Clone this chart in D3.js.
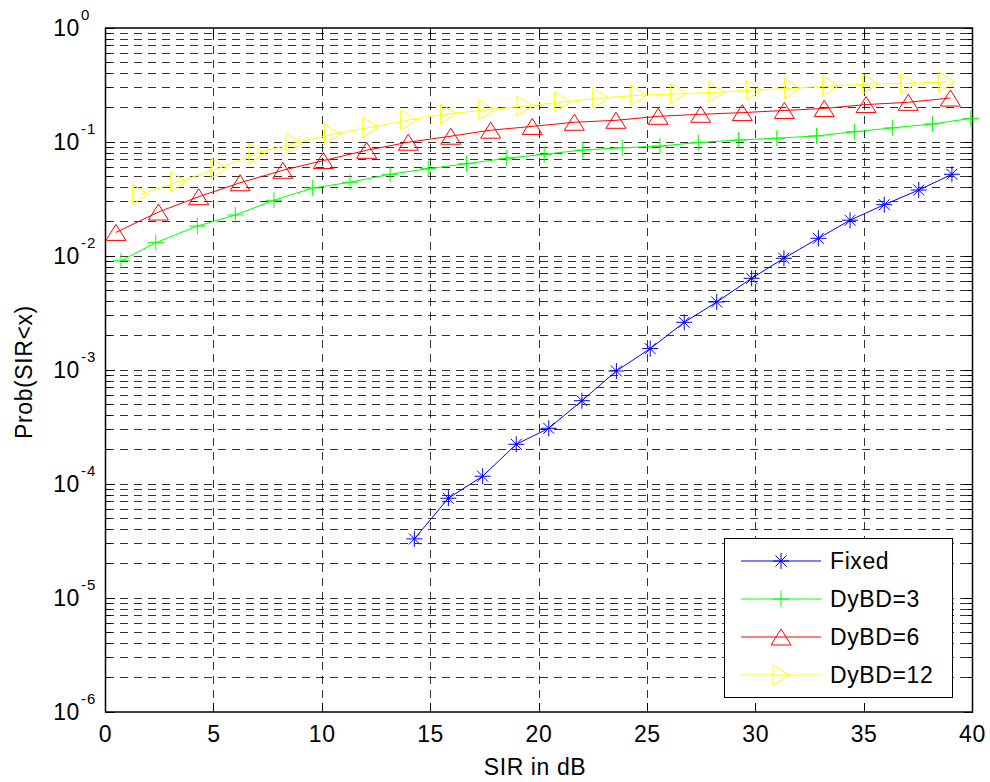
<!DOCTYPE html>
<html>
<head>
<meta charset="utf-8">
<script src="https://cdn.jsdelivr.net/npm/d3@7"></script>
<style>
  html, body { margin: 0; padding: 0; background: #fff; }
  svg { display: block; }
  text { font-family: "Liberation Sans", Arial, sans-serif; fill: #000; }
</style>
</head>
<body>
<svg id="chart" width="990" height="782"></svg>
<script>
// ---- data ----
const xFixed = [14.25,15.82,17.40,18.95,20.45,21.98,23.57,25.13,26.70,28.20,29.81,31.30,32.89,34.35,35.93,37.52,39.05];
const yFixed = [3.30e-5,7.5e-5,1.17e-4,2.23e-4,3.08e-4,5.38e-4,9.8e-4,1.54e-3,2.62e-3,3.95e-3,6.37e-3,9.55e-3,1.43e-2,2.06e-2,2.82e-2,3.79e-2,5.21e-2];

const xDy3 = [0.72,2.32,4.24,5.99,7.77,9.56,11.28,13.13,14.89,16.66,18.51,20.24,22.02,23.84,25.58,27.35,29.21,30.97,32.80,34.55,36.30,38.15,39.92];
const yDy3 = [9.1e-3,1.31e-2,1.83e-2,2.29e-2,3.08e-2,3.95e-2,4.43e-2,5.21e-2,5.84e-2,6.45e-2,7.2e-2,7.8e-2,8.5e-2,8.9e-2,9.2e-2,9.9e-2,0.104,0.108,0.113,0.123,0.133,0.144,0.161];

const xDy6 = [0.48,2.44,4.30,6.21,8.18,10.05,12.05,13.97,15.93,17.77,19.69,21.63,23.55,25.50,27.46,29.38,31.32,33.16,35.09,37.04,38.98];
const yDy6 = [0.0161,0.0243,0.0331,0.0439,0.0565,0.0687,0.0846,0.0996,0.1124,0.127,0.137,0.149,0.155,0.168,0.175,0.181,0.189,0.197,0.213,0.223,0.243];

const xDy12 = [1.61,3.38,5.23,6.99,8.70,10.47,12.24,13.99,15.82,17.59,19.35,21.09,22.85,24.60,26.43,28.20,29.93,31.69,33.46,35.29,37.04,38.81];
const yDy12 = [0.0348,0.0449,0.0588,0.0796,0.0974,0.1175,0.1346,0.156,0.177,0.191,0.207,0.2244,0.243,0.257,0.265,0.273,0.286,0.296,0.310,0.323,0.327,0.336];

const seriesNames = ["Fixed", "DyBD=3", "DyBD=6", "DyBD=12"];
const seriesColors = ["#0000ff", "#00ff00", "#ff0000", "#ffff00"];
const seriesMarkers = ["star", "plus", "triUp", "triRight"];

const xTicks = [0,5,10,15,20,25,30,35,40];
const yExponents = [0,-1,-2,-3,-4,-5,-6];
const xLabel = "SIR in dB";
const yLabel = "Prob(SIR<x)";

// ---- layout ----
const L = 105.5, R = 972.5, T = 28, B = 712;
const x = d3.scaleLinear().domain([0, 40]).range([L, R]);
const y = d3.scaleLog().domain([1e-6, 1]).range([B, T]);

const svg = d3.select("#chart");

const yMajor = yExponents.map(e => Math.pow(10, e));
const yMinor = [];
for (let e = -6; e < 0; e++) for (let m = 2; m <= 9; m++) yMinor.push(m * Math.pow(10, e));

// grid
const grid = svg.append("g").attr("stroke", "#000").attr("stroke-width", 1)
  .attr("stroke-dasharray", "8,6").attr("shape-rendering", "crispEdges").attr("stroke-opacity", 0.8);
yMajor.concat(yMinor).filter(v => v > 1e-6 && v < 1).forEach(v => {
  grid.append("line").attr("x1", L).attr("x2", R).attr("y1", y(v)).attr("y2", y(v));
});
xTicks.filter(v => v > 0 && v < 40).forEach(v => {
  grid.append("line").attr("x1", x(v)).attr("x2", x(v)).attr("y1", B).attr("y2", T);
});

// ticks (inside, all four sides)
const ticks = svg.append("g").attr("stroke", "#000").attr("stroke-width", 1).attr("shape-rendering", "crispEdges");
xTicks.forEach(v => {
  ticks.append("line").attr("x1", x(v)).attr("x2", x(v)).attr("y1", B).attr("y2", B - 9);
  ticks.append("line").attr("x1", x(v)).attr("x2", x(v)).attr("y1", T).attr("y2", T + 9);
});
yMajor.forEach(v => {
  ticks.append("line").attr("x1", L).attr("x2", L + 9).attr("y1", y(v)).attr("y2", y(v));
  ticks.append("line").attr("x1", R).attr("x2", R - 9).attr("y1", y(v)).attr("y2", y(v));
});
yMinor.forEach(v => {
  ticks.append("line").attr("x1", L).attr("x2", L + 5).attr("y1", y(v)).attr("y2", y(v));
  ticks.append("line").attr("x1", R).attr("x2", R - 5).attr("y1", y(v)).attr("y2", y(v));
});

// axis box
svg.append("rect").attr("x", L).attr("y", T).attr("width", R - L).attr("height", B - T)
  .attr("fill", "none").attr("stroke", "#000").attr("stroke-width", 1.5);

// x tick labels
svg.append("g").selectAll("text").data(xTicks).join("text")
  .attr("x", d => x(d)).attr("y", B + 30).attr("text-anchor", "middle")
  .attr("font-size", 23).attr("letter-spacing", 0.6).text(d => d);

// y tick labels 10^e
const yl = svg.append("g");
yExponents.forEach(e => {
  const yy = y(Math.pow(10, e));
  yl.append("text").attr("x", 80).attr("y", yy + 8).attr("text-anchor", "end")
    .attr("font-size", 23).attr("letter-spacing", 0.6).text("10");
  yl.append("text").attr("x", 81).attr("y", yy - 8).attr("text-anchor", "start")
    .attr("font-size", 15).attr("letter-spacing", 1).text(String(e));
});

// axis labels
svg.append("text").attr("x", 535).attr("y", 775).attr("text-anchor", "middle")
  .attr("font-size", 23).attr("letter-spacing", 0.6).text(xLabel);
svg.append("text").attr("transform", "translate(32,372) rotate(-90)").attr("text-anchor", "middle")
  .attr("font-size", 23).attr("letter-spacing", 0.6).text(yLabel);

// markers
function drawMarker(g, type, cx, cy, color) {
  const s = g.append("g").attr("transform", `translate(${cx},${cy})`)
    .attr("stroke", color).attr("fill", "none").attr("stroke-width", 1);
  if (type === "star") {
    s.append("path").attr("d", "M-8,0H8M0,-8V8M-5.5,-5.5L5.5,5.5M-5.5,5.5L5.5,-5.5");
  } else if (type === "plus") {
    s.append("path").attr("d", "M-8,0H8M0,-8V8");
  } else if (type === "triUp") {
    s.append("path").attr("d", "M0,-8L10,8L-10,8Z");
  } else if (type === "triRight") {
    s.append("path").attr("d", "M-8,-10L8,0L-8,10Z");
  }
}

const xs = [xFixed, xDy3, xDy6, xDy12];
const ys = [yFixed, yDy3, yDy6, yDy12];
const line = d3.line().x(d => x(d[0])).y(d => y(d[1]));

for (let i = 0; i < 4; i++) {
  const pts = xs[i].map((v, k) => [v, ys[i][k]]);
  const g = svg.append("g");
  g.append("path").datum(pts).attr("d", line).attr("fill", "none")
    .attr("stroke", seriesColors[i]).attr("stroke-width", 1);
  pts.forEach(p => drawMarker(g, seriesMarkers[i], x(p[0]), y(p[1]), seriesColors[i]));
}

// legend
const lg = svg.append("g");
lg.append("rect").attr("x", 724.5).attr("y", 538.5).attr("width", 228).attr("height", 159)
  .attr("fill", "#fff").attr("stroke", "#000").attr("stroke-width", 1);
seriesNames.forEach((name, i) => {
  const ly = 561 + i * 38;
  lg.append("line").attr("x1", 741).attr("x2", 821).attr("y1", ly).attr("y2", ly)
    .attr("stroke", seriesColors[i]).attr("stroke-width", 1);
  drawMarker(lg, seriesMarkers[i], 781, ly, seriesColors[i]);
  lg.append("text").attr("x", 830).attr("y", ly + 8).attr("font-size", 23)
    .attr("letter-spacing", 0.6).text(name);
});
</script>
</body>
</html>
